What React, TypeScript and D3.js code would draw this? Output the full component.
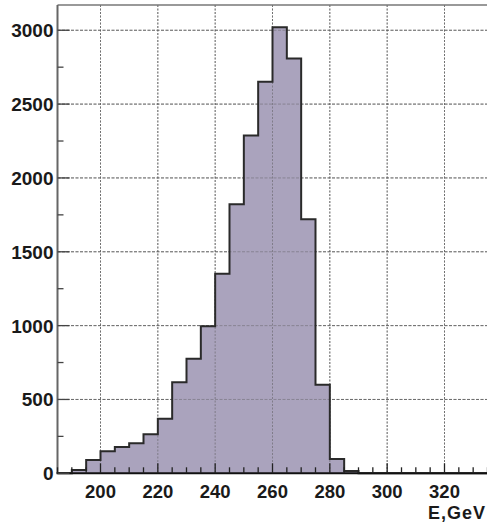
import React from "react";
import * as d3 from "d3";

const binEdges = [185, 190, 195, 200, 205, 210, 215, 220, 225, 230, 235, 240, 245, 250, 255, 260, 265, 270, 275, 280, 285, 290, 295, 300, 305, 310, 315, 320, 325, 330, 335];
const counts = [0, 22, 90, 150, 178, 204, 264, 370, 616, 776, 996, 1352, 1822, 2287, 2652, 3020, 2808, 1721, 600, 97, 15, 0, 0, 0, 0, 0, 0, 0, 0, 0];
const xTicks = [200, 220, 240, 260, 280, 300, 320];
const yTicks = [0, 500, 1000, 1500, 2000, 2500, 3000];
const xTitle = "E,GeV";

const W = 487;
const H = 522;
const L = 57.5;
const R = 487.5;
const T = 5;
const B = 473.3;

export default function App() {
  const x = d3.scaleLinear().domain([185, 335]).range([L, R]);
  const ymax = 1.05 * (d3.max(counts) as number);
  const y = d3.scaleLinear().domain([0, ymax]).range([B, T]);

  const pts: [number, number][] = [];
  pts.push([x(binEdges[0]), y(0)]);
  counts.forEach((c, i) => {
    pts.push([x(binEdges[i]), y(c)]);
    pts.push([x(binEdges[i + 1]), y(c)]);
  });
  pts.push([x(binEdges[binEdges.length - 1]), y(0)]);
  const line = d3.line();
  const pathD = line(pts) as string;

  const minorX = d3.range(185, 336, 5);
  const minorY = d3.range(0, ymax, 250);
  const font = "'Liberation Sans', Arial, Helvetica, sans-serif";

  return (
    <svg width={W} height={H} style={{ position: "absolute", left: 0, top: 0, background: "#fff" }}>
      {xTicks.map((t) => (
        <line key={"gx" + t} x1={x(t)} x2={x(t)} y1={T} y2={B} stroke="#8a8a8a" strokeWidth={1} strokeDasharray="2,1.5" />
      ))}
      {yTicks.filter((t) => t > 0).map((t) => (
        <line key={"gy" + t} x1={L} x2={R} y1={y(t)} y2={y(t)} stroke="#7a7a7a" strokeWidth={1} strokeDasharray="3,1.5" />
      ))}
      <path d={pathD + "Z"} fill="#aaa3bd" stroke="none" />
      {xTicks.map((t) => (
        <line key={"gx2" + t} x1={x(t)} x2={x(t)} y1={T} y2={B} stroke="#555" strokeOpacity={0.5} strokeWidth={1} strokeDasharray="2,1.5" />
      ))}
      {yTicks.filter((t) => t > 0).map((t) => (
        <line key={"gy2" + t} x1={L} x2={R} y1={y(t)} y2={y(t)} stroke="#555" strokeOpacity={0.4} strokeWidth={1} strokeDasharray="3,1.5" />
      ))}
      <path d={pathD} fill="none" stroke="#2a2a2a" strokeWidth={2} />
      <line x1={L} x2={R} y1={T} y2={T} stroke="#777" strokeWidth={1.5} />
      <line x1={L} x2={L} y1={T} y2={B} stroke="#666" strokeWidth={2} />
      <line x1={L - 1} x2={R} y1={B} y2={B} stroke="#111" strokeWidth={2} />
      {minorX.map((t) => (
        <line key={"mx" + t} x1={x(t)} x2={x(t)} y1={B} y2={B - (t % 20 === 0 ? 10 : 6)} stroke="#222" strokeWidth={1.3} />
      ))}
      {minorY.map((t) => (
        <line key={"my" + t} x1={L} x2={L + (t % 500 === 0 ? 12 : 6)} y1={y(t)} y2={y(t)} stroke="#444" strokeWidth={1.3} />
      ))}
      {yTicks.map((t) => (
        <text key={"ly" + t} x={53.5} y={y(t) + 7} textAnchor="end" fontFamily={font} fontSize={19} fontWeight="bold" fill="#1a1a1a">
          {t}
        </text>
      ))}
      {xTicks.map((t) => (
        <text key={"lx" + t} x={x(t)} y={498} textAnchor="middle" fontFamily={font} fontSize={18.5} fontWeight="bold" fill="#1a1a1a">
          {t}
        </text>
      ))}
      <text x={486} y={518.5} textAnchor="end" fontFamily={font} fontSize={18} fontWeight="bold" fill="#1a1a1a" letterSpacing={1}>
        {xTitle}
      </text>
    </svg>
  );
}
